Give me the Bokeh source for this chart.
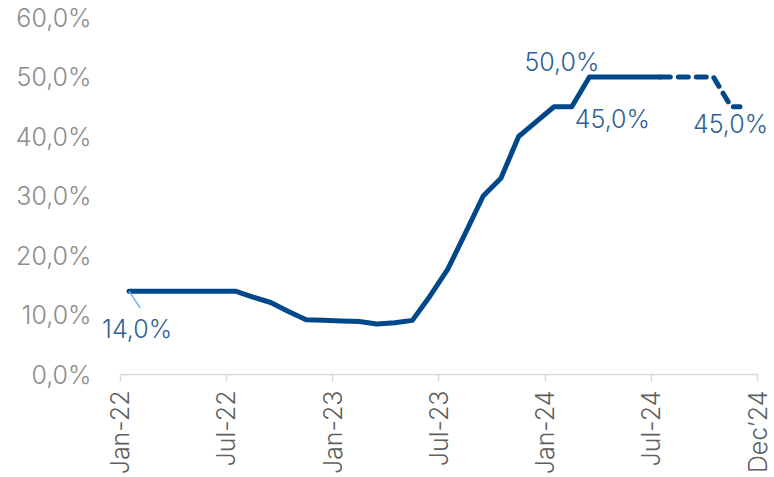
from bokeh.plotting import figure
from bokeh.models import Range1d, FixedTicker, Label
from bokeh.embed import file_html
from bokeh.resources import INLINE

# x positions in months since Jan-2022 (mid-month points)
month_pos = [0.5, 1.5, 2.5, 3.5, 4.5, 5.5, 6.5, 7.5, 8.5, 9.5,
             10.5, 11.5, 12.5, 13.5, 14.5, 15.5, 16.5, 17.5, 18.5, 19.5,
             20.5, 21.5, 22.5, 23.5, 24.5, 25.5, 26.5, 27.5, 28.5, 29.5,
             30.5, 31.5, 32.5, 33.5, 34.5, 35.0]
rate = [14.0, 14.0, 14.0, 14.0, 14.0, 14.0, 14.0, 13.0, 12.1, 10.6,
        9.2, 9.1, 9.0, 8.9, 8.5, 8.7, 9.1, 13.2, 17.7, 23.8,
        30.0, 33.0, 40.0, 42.5, 45.0, 45.0, 50.0, 50.0, 50.0, 50.0,
        50.0, 50.0, 50.0, 50.0, 45.0, 45.0]
n_actual = 31  # points drawn solid; rest is forecast (dashed)

x_ticks = [0, 6, 12, 18, 24, 30, 36]
x_tick_labels = ["Jan-22", "Jul-22", "Jan-23", "Jul-23", "Jan-24", "Jul-24", "Dec\u201924"]
y_ticks = [0, 10, 20, 30, 40, 50, 60]
y_tick_labels = ["0,0%", "10,0%", "20,0%", "30,0%", "40,0%", "50,0%", "60,0%"]

FONT = "Inter Light"
FS = "25px"
LINE = "#00488a"
TXT = "#2f5f99"

p = figure(width=774, height=477, output_backend="svg", toolbar_location=None,
           x_range=Range1d(-1.0, 36.95), y_range=Range1d(0, 60),
           min_border_left=102, min_border_right=0, min_border_top=17,
           min_border_bottom=101)
p.outline_line_color = None
p.grid.visible = False
p.background_fill_color = "white"
p.border_fill_color = "white"

# x axis
xa = p.xaxis[0]
xa.bounds = (x_ticks[0], x_ticks[-1])
xa.ticker = FixedTicker(ticks=x_ticks)
xa.major_label_overrides = {t: l for t, l in zip(x_ticks, x_tick_labels)}
xa.major_label_orientation = 3.14159265 / 2
xa.major_label_text_font = FONT
xa.major_label_text_font_size = FS
xa.major_label_text_color = "#5f5f5f"
xa.major_label_standoff = 9
xa.axis_line_color = "#d9d9d9"
xa.axis_line_width = 1.5
xa.major_tick_line_color = "#d9d9d9"
xa.major_tick_line_width = 1.5
xa.major_tick_out = 7
xa.major_tick_in = 0
xa.minor_tick_line_color = None

# y axis
ya = p.yaxis[0]
ya.ticker = FixedTicker(ticks=y_ticks)
ya.major_label_overrides = {t: l for t, l in zip(y_ticks, y_tick_labels)}
ya.major_label_text_font = FONT
ya.major_label_text_font_size = FS
ya.major_label_text_color = "#8c8c8c"
ya.major_label_standoff = 5
ya.axis_line_color = None
ya.major_tick_line_color = None
ya.minor_tick_line_color = None

# lines
p.line(month_pos[:n_actual], rate[:n_actual], line_color=LINE, line_width=5,
       line_join="round", line_cap="round")
p.line(month_pos[n_actual - 1:], rate[n_actual - 1:], line_color=LINE, line_width=5,
       line_join="round", line_cap="round", line_dash="10 8")

# leader for first value
p.segment(x0=[month_pos[0]], y0=[rate[0]], x1=[month_pos[0] + 0.62], y1=[rate[0] - 2.8],
          line_color="#6fb1e8", line_width=1.5)

def lab(i, txt, dx, dy):
    p.add_layout(Label(x=month_pos[i], y=rate[i], text=txt, x_offset=dx, y_offset=dy,
                       text_align="left", text_baseline="middle",
                       text_font=FONT, text_font_size=FS, text_color=TXT))

lab(0, "14,0%", -27, -38)
lab(26, "50,0%", -65, 15)
lab(25, "45,0%", 3, -12)
lab(len(rate) - 1, "45,0%", -47, -17)

open("out.html", "w").write(file_html(p, INLINE))
